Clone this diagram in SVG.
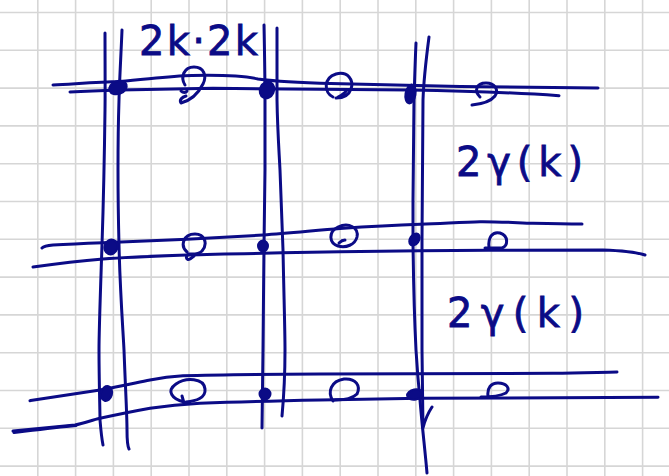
<svg xmlns="http://www.w3.org/2000/svg" width="669" height="476" viewBox="0 0 669 476">
<defs>
<style>
.grid line{stroke:#d6d6d6;stroke-width:1.6}
.ink{fill:none;stroke:#0b0b86;stroke-width:3;stroke-linecap:round;stroke-linejoin:round}
.dot{fill:#0b0b86;stroke:#0b0b86;stroke-width:2}
.lbl{font-family:"DejaVu Sans","Liberation Sans",sans-serif;fill:#0b0b86;stroke:#0b0b86;stroke-width:0.8;font-size:40px}
</style>
</defs>
<rect width="669" height="476" fill="#ffffff"/>
<g id="grid" class="grid">
<line x1="37.8" y1="0" x2="37.8" y2="476"/><line x1="75.6" y1="0" x2="75.6" y2="476"/><line x1="113.4" y1="0" x2="113.4" y2="476"/><line x1="151.2" y1="0" x2="151.2" y2="476"/><line x1="189" y1="0" x2="189" y2="476"/><line x1="226.8" y1="0" x2="226.8" y2="476"/><line x1="264.6" y1="0" x2="264.6" y2="476"/><line x1="302.4" y1="0" x2="302.4" y2="476"/><line x1="340.2" y1="0" x2="340.2" y2="476"/><line x1="378" y1="0" x2="378" y2="476"/><line x1="415.8" y1="0" x2="415.8" y2="476"/><line x1="453.6" y1="0" x2="453.6" y2="476"/><line x1="491.4" y1="0" x2="491.4" y2="476"/><line x1="529.2" y1="0" x2="529.2" y2="476"/><line x1="567" y1="0" x2="567" y2="476"/><line x1="604.8" y1="0" x2="604.8" y2="476"/><line x1="642.6" y1="0" x2="642.6" y2="476"/>
<line x1="0" y1="12.5" x2="669" y2="12.5"/><line x1="0" y1="50.3" x2="669" y2="50.3"/><line x1="0" y1="88.1" x2="669" y2="88.1"/><line x1="0" y1="125.9" x2="669" y2="125.9"/><line x1="0" y1="163.7" x2="669" y2="163.7"/><line x1="0" y1="201.5" x2="669" y2="201.5"/><line x1="0" y1="239.3" x2="669" y2="239.3"/><line x1="0" y1="277.1" x2="669" y2="277.1"/><line x1="0" y1="314.9" x2="669" y2="314.9"/><line x1="0" y1="352.7" x2="669" y2="352.7"/><line x1="0" y1="390.5" x2="669" y2="390.5"/><line x1="0" y1="428.3" x2="669" y2="428.3"/><line x1="0" y1="466.1" x2="669" y2="466.1"/>
</g>
<g id="connectors" class="ink">
<path id="top-line-1" d="M53,85 C80,83.5 100,82 120,81.5 C150,79 170,76 192,75.5 C215,75 240,75 258,79 C270,81 290,82 320,83.3 C360,84 410,85 460,86.5 C520,87.5 560,88 598,88"/>
<path id="top-line-2" d="M70,92 C90,91 105,90.5 120,90 C160,89 190,88.5 213,88.3 C260,88.5 300,89 320,89.3 C360,89.8 390,90 410,90 C470,91 520,93 559,95.7"/>
<path id="mid-line-1" d="M42,248 C44,246 48,245.5 53,245 C70,244 90,243.2 103,242.7 C130,241.5 160,240.5 187,239.3 C215,237.8 240,236.5 263,235 C290,233 320,230 340,228.5 C370,226.5 400,225 420,224.3 C445,223.3 465,222 480,221.7 C500,221.5 520,223 533,223.3 C550,223.7 565,224 582,224"/>
<path id="mid-line-2" d="M33,267 C55,264 80,261 103,259 C130,257 160,256 187,255 C210,254 240,253.6 263,253.3 C290,252.6 320,252 340,251.7 C370,251.3 400,250.9 420,250.7 C480,250.3 560,249.8 603,250 C620,250.5 635,252 645,255"/>
<path id="bot-line-1" d="M30,400.7 C55,397 80,393 100,390 C120,386.5 135,383 150,380 C160,378 170,376.5 183,375.7 C220,374.5 270,374.2 320,374 C400,373.8 480,373.6 553,373.3 C580,373 600,372.3 617,372"/>
<path id="bot-line-2" d="M13,431 C35,429 55,427 75,425 C85,423 92,420 100,418.3 C120,414 135,411 150,408.3 C165,406 180,404.3 200,403.3 C240,401.8 280,400.8 320,400 C360,399.3 390,398.8 420,398.3 C500,397.8 580,397.5 658,397.3"/>
<path d="M14,432.5 C35,430 55,427.5 76,425.5"/>
<path id="v-left-1" d="M105,33 C105,60 105.3,90 105,110 C104.5,150 103.5,200 102,245 C100.5,290 99,330 99,350 C99,380 100,410 100,420 C101,432 102,440 103,445"/>
<path id="v-left-2" d="M122,30 C121,55 119.5,80 119,100 C118,130 118,150 118,170 C118,200 118.5,225 119,245 C120,290 123,330 124,350 C125.5,390 127,415 127,430 C127,440 127.5,446 129,449"/>
<path id="v-mid-1" d="M264,25 C264.5,50 265,80 265,100 C265.2,130 265.2,150 265,170 C264.8,200 264.5,225 264,245 C263.6,290 263.3,330 263,350 C262.6,390 262,415 262,428"/>
<path id="v-mid-2" d="M277,28 C277,55 277,80 277,100 C277.5,130 279,150 280,170 C281.5,205 282.5,230 283,250 C284,300 285,330 285,350 C285,380 283.5,400 282,416"/>
<path id="v-right-1" d="M416,43 C415,65 414.5,85 414,100 C413.5,140 413,180 413,200 C413,215 413,230 413,240 C413.5,290 415,330 416,350 C417.5,375 419,390 420,400 C422,425 425,450 427,473"/>
<path id="v-right-2" d="M429,37 C426,60 423.5,85 423,100 C422.5,150 422,200 422,240 C422,290 422,330 422,350 C422.5,390 423,415 423,428 C425,420 428,413 432,407"/>
</g>
<g id="filled-dots">
<ellipse class="dot" cx="118" cy="87.5" rx="9" ry="6.5" transform="rotate(-20 118 87.5)"/>
<ellipse class="dot" cx="267" cy="90" rx="7" ry="8.5" transform="rotate(25 267 90)"/>
<ellipse class="dot" cx="410.5" cy="94" rx="5" ry="9.5" transform="rotate(10 410.5 94)"/>
<ellipse class="dot" cx="111" cy="247" rx="6.5" ry="7.5" transform="rotate(20 111 247)"/>
<ellipse class="dot" cx="263" cy="246" rx="5" ry="5.5"/>
<ellipse class="dot" cx="414.5" cy="239.5" rx="4.5" ry="6.5" transform="rotate(35 414.5 239.5)"/>
<ellipse class="dot" cx="106.5" cy="393.5" rx="5.5" ry="7.5" transform="rotate(15 106.5 393.5)"/>
<ellipse class="dot" cx="265" cy="394" rx="5.5" ry="5.5"/>
<ellipse class="dot" cx="415" cy="394.5" rx="8" ry="5" transform="rotate(-10 415 394.5)"/>
</g>
<g id="open-circles" class="ink">
<path id="o-top-1" d="M185,85 C180,77 184,67 194,67 C204,67 207,76 203,84 C199,92 192,100 181,103 C179,100 182,97 186,96 M181,91 C183,93 186,93 187,91"/>
<path id="o-top-2" d="M333,97 C324,93 323,78 336,74 C348,71 354,80 351,89 C349,95 343,98 336,98 M338,97 C342,95 345,93 347,90"/>
<path id="o-top-3" d="M480,97 C474,91 476,83 486,83 C495,83 499,90 495,96 C491,101 482,104 472,105"/>
<path id="o-mid-1" d="M187,252 C180,246 183,234 195,234 C205,234 208,244 202,251 C198,255 192,254 189,254 C185,256 186,261 190,259 L194,256"/>
<path id="o-mid-2" d="M338,246 C329,243 328,232 338,227 C349,222 359,228 357,237 C355,245 346,248 338,246 M339,243 C341,241 343,240 345,240"/>
<path id="o-mid-3" d="M485,248 L502,248 C508,246 509,236 500,233 C492,231 488,238 489,247"/>
<path id="o-bot-1" d="M184,402 C172,399 166,391 176,384 C186,377 204,378 205,389 C206,398 196,401 186,402 M182,396 L184,403 L190,402"/>
<path id="o-bot-2" d="M333,401 C327,392 331,381 344,379 C356,378 361,386 357,394 C353,398 346,400 335,400"/>
<path id="o-bot-3" d="M481,397 C488,397 500,396 506,393 C511,388 506,383 498,383 C491,383 487,388 488,396"/>
</g>
<g id="labels">
<text id="label-top" class="lbl" x="139" y="55" textLength="119" lengthAdjust="spacing">2k·2k</text>
<text id="label-mid" class="lbl" x="456" y="176" textLength="127" lengthAdjust="spacing">2γ(k)</text>
<text id="label-bot" class="lbl" x="447" y="327" textLength="137" lengthAdjust="spacing">2γ(k)</text>
</g>
</svg>
